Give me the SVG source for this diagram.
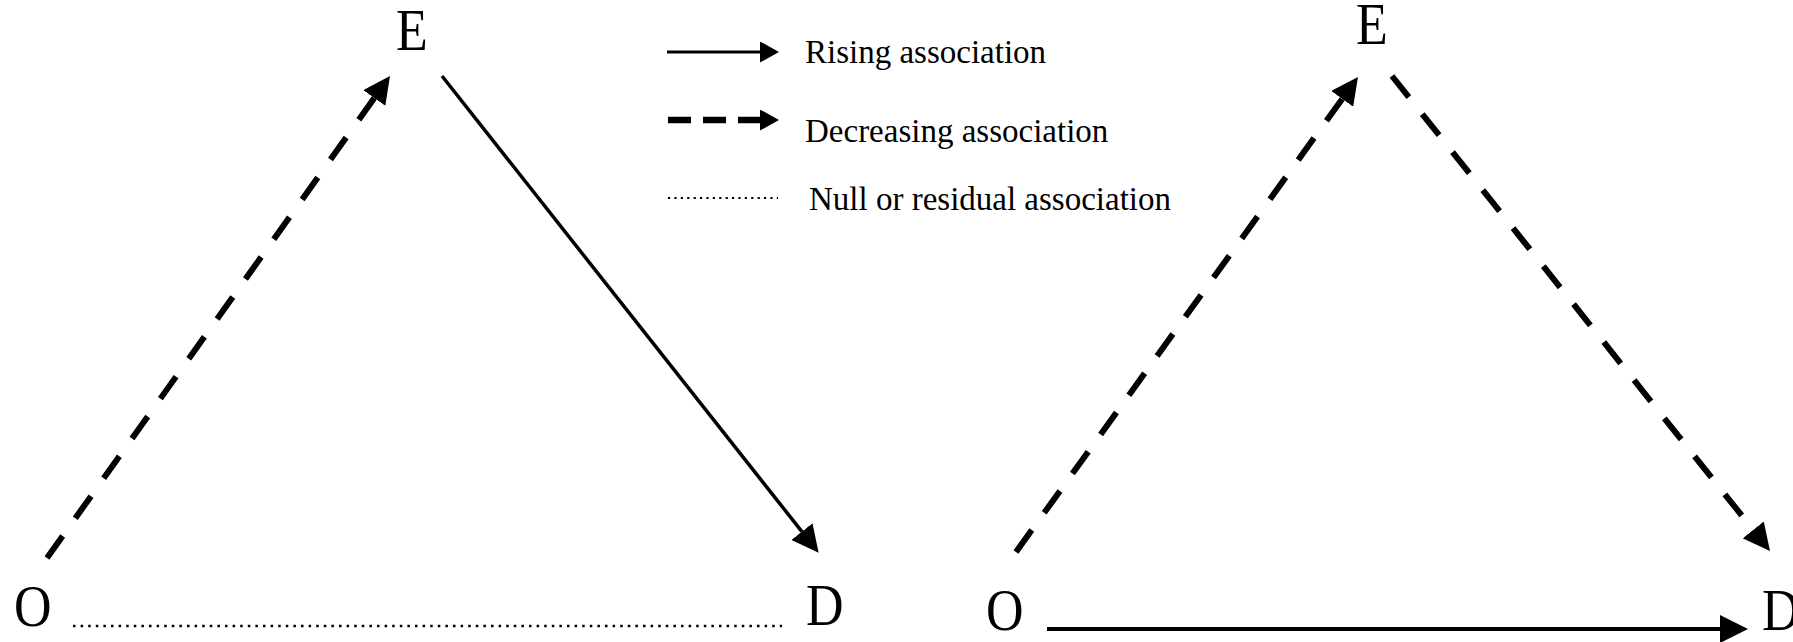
<svg xmlns="http://www.w3.org/2000/svg" width="1793" height="642" viewBox="0 0 1793 642">
  <style>
    .lbl { font-family: "Liberation Serif", "Times New Roman", serif; font-size: 52px; fill: #000; }
    .leg { font-family: "Liberation Serif", "Times New Roman", serif; font-size: 33px; fill: #000; }
    .solid { fill: none; stroke: #000; stroke-width: 3.5; }
    .dash { fill: none; stroke: #000; stroke-width: 6; stroke-linecap: butt; }
    .dot { fill: none; stroke: #000; stroke-width: 2.5; }
  </style>
  <defs>
    <marker id="arr" markerUnits="userSpaceOnUse" viewBox="0 0 27 27" markerWidth="27" markerHeight="27" refX="0" refY="13.5" orient="auto">
      <path d="M0,0 L27,13.5 L0,27 Z" fill="#000"/>
    </marker>
    <marker id="arrL" markerUnits="userSpaceOnUse" viewBox="0 0 28 28" markerWidth="28" markerHeight="28" refX="0" refY="14" orient="auto">
      <path d="M0,0 L28,14 L0,28 Z" fill="#000"/>
    </marker>
    <marker id="legArr" markerUnits="userSpaceOnUse" viewBox="0 0 19 21" markerWidth="19" markerHeight="21" refX="0" refY="10.5" orient="auto">
      <path d="M0,0 L19,10.5 L0,21 Z" fill="#000"/>
    </marker>
  </defs>

  <g id="connectors">
    <path id="left-OE" class="dash" d="M47,558 L374.3,98" stroke-dasharray="27 21.9" marker-end="url(#arr)"/>
    <path id="left-ED" class="solid" d="M442,76 L801.9,531.6" marker-end="url(#arr)"/>
    <path id="left-OD" class="dot" d="M73,626 L782,626" stroke-dasharray="2.5 5.1"/>
    <path id="right-OE" class="dash" d="M1016,552 L1342.2,98.9" stroke-dasharray="27 21.3" marker-end="url(#arr)"/>
    <path id="right-ED" class="dash" d="M1392,76 L1753.2,529.9" stroke-dasharray="27 21.6" marker-end="url(#arr)"/>
    <path id="right-OD" fill="none" stroke="#000" stroke-width="4" d="M1047,629 L1720,629" marker-end="url(#arrL)"/>
  </g>

  <g id="legend">
    <path d="M667,52 L760,52" fill="none" stroke="#000" stroke-width="3" marker-end="url(#legArr)"/>
    <text class="leg" x="805" y="63">Rising association</text>
    <path d="M668,120 L760,120" fill="none" stroke="#000" stroke-width="6.5" stroke-dasharray="23 12" marker-end="url(#legArr)"/>
    <text class="leg" x="805" y="142">Decreasing association</text>
    <path d="M668,198 L778,198" fill="none" stroke="#000" stroke-width="2.2" stroke-dasharray="2.2 4.2"/>
    <text class="leg" x="809" y="210">Null or residual association</text>
  </g>

  <g id="node-left-E"><text class="lbl" transform="translate(396,50) scale(1,1.12)">E</text></g>
  <g id="node-left-O"><text class="lbl" transform="translate(14,626) scale(1,1.12)">O</text></g>
  <g id="node-left-D"><text class="lbl" transform="translate(806,625) scale(1,1.12)">D</text></g>
  <g id="node-right-E"><text class="lbl" transform="translate(1356,44) scale(1,1.12)">E</text></g>
  <g id="node-right-O"><text class="lbl" transform="translate(986,630) scale(1,1.12)">O</text></g>
  <g id="node-right-D"><text class="lbl" transform="translate(1762,630) scale(1,1.12)">D</text></g>
</svg>
